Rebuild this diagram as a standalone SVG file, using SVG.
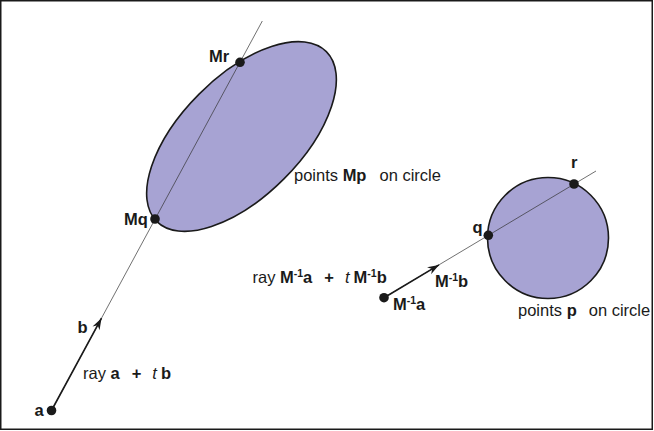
<svg xmlns="http://www.w3.org/2000/svg" width="654" height="431" viewBox="0 0 654 431">
  <defs>
    <marker id="arrow" viewBox="-12 -5 13 10" refX="0" refY="0" markerWidth="13" markerHeight="10" markerUnits="userSpaceOnUse" orient="auto">
      <path d="M0,0 L-11.5,-4 L-8,0 L-11.5,4 Z" fill="#1a1a1a"/>
    </marker>
  </defs>
  <style>
    text { font-family: "Liberation Sans", Arial, sans-serif; font-size: 16.5px; fill: #1a1a1a; }
    .b { font-weight: bold; }
    .i { font-style: italic; }
    .sup { font-size: 10.5px; font-weight: bold; }
    .shape { fill: #a7a3d3; stroke: #1a1a1a; stroke-width: 1.6; }
    .dot { fill: #1a1a1a; }
    .thin { stroke: #333; stroke-width: 0.7; fill: none; }
    .thick { stroke: #1a1a1a; stroke-width: 1.6; fill: none; }
  </style>
  <rect x="0.75" y="0.75" width="651.5" height="428.5" fill="#fff" stroke="#1a1a1a" stroke-width="1.5"/>

  <g id="ellipse-node">
    <ellipse class="shape" cx="241.5" cy="136.5" rx="120" ry="60" transform="rotate(-45 241.5 136.5)"/>
    <text x="294" y="180.5">points <tspan class="b">Mp</tspan><tspan dx="13">on circle</tspan></text>
  </g>

  <g id="circle-node">
    <circle class="shape" cx="548" cy="238" r="60.5"/>
    <text x="518" y="316">points <tspan class="b">p</tspan><tspan dx="12">on circle</tspan></text>
  </g>

  <g id="connectors">
    <line class="thin" x1="51.5" y1="410.5" x2="262.3" y2="21"/>
    <line class="thick" x1="51.5" y1="410.5" x2="101.5" y2="318.2" marker-end="url(#arrow)"/>
    <line class="thin" x1="384" y1="297.7" x2="596" y2="171"/>
    <line class="thick" x1="384" y1="297.7" x2="439" y2="264.9" marker-end="url(#arrow)"/>
  </g>

  <g id="node-a">
    <circle class="dot" cx="51.5" cy="410.5" r="4.8"/>
    <text class="b" x="34.5" y="416">a</text>
  </g>
  <g id="node-b">
    <text class="b" x="77.5" y="333">b</text>
  </g>
  <g id="node-Mq">
    <circle class="dot" cx="155" cy="219" r="4.8"/>
    <text class="b" x="124" y="225">Mq</text>
  </g>
  <g id="node-Mr">
    <circle class="dot" cx="240" cy="62.3" r="4.8"/>
    <text class="b" x="209" y="62">Mr</text>
  </g>
  <g id="node-q">
    <circle class="dot" cx="488.3" cy="235.3" r="4.8"/>
    <text class="b" x="472.5" y="233">q</text>
  </g>
  <g id="node-r">
    <circle class="dot" cx="574" cy="184" r="4.8"/>
    <text class="b" x="571" y="167.5">r</text>
  </g>
  <g id="node-Minva">
    <circle class="dot" cx="384" cy="297.7" r="4.8"/>
    <text class="b" x="393" y="309.5">M<tspan class="sup" dy="-6">-1</tspan><tspan dy="6">a</tspan></text>
  </g>
  <g id="node-Minvb">
    <text class="b" x="435" y="286.5">M<tspan class="sup" dy="-6">-1</tspan><tspan dy="6">b</tspan></text>
  </g>

  <g id="ray-labels">
    <text x="83" y="379">ray <tspan class="b">a</tspan><tspan class="b" dx="12">+</tspan><tspan class="i" dx="11">t</tspan><tspan class="b" dx="4">b</tspan></text>
    <text x="252.5" y="283">ray <tspan class="b">M</tspan><tspan class="sup" dy="-6">-1</tspan><tspan class="b" dy="6">a</tspan><tspan class="b" dx="12">+</tspan><tspan class="i" dx="11">t</tspan><tspan class="b" dx="4">M</tspan><tspan class="sup" dy="-6">-1</tspan><tspan class="b" dy="6">b</tspan></text>
  </g>
</svg>
